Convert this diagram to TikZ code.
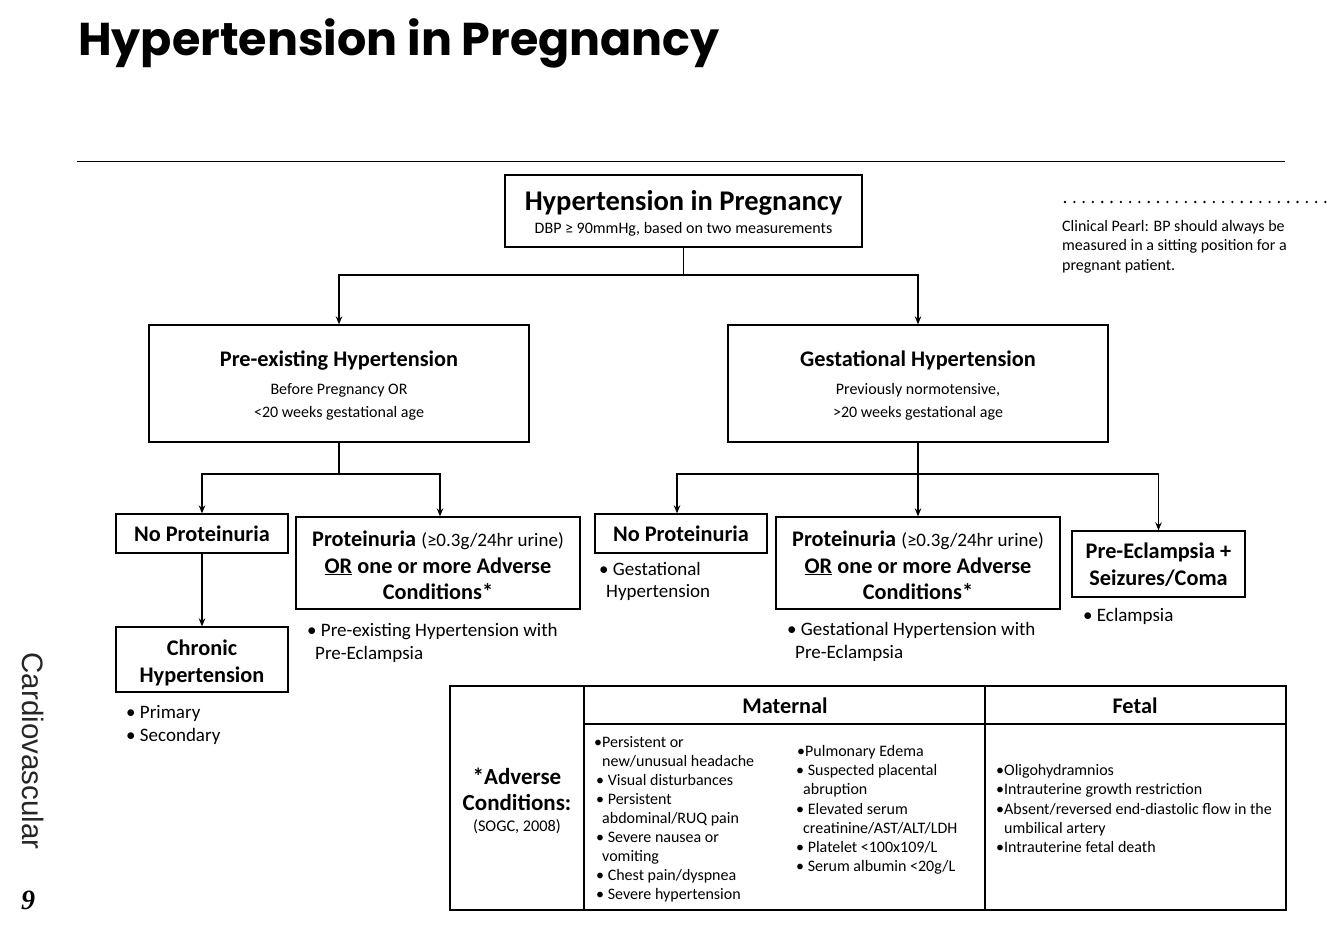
\documentclass[tikz,border=0pt]{standalone}
\usepackage{fontspec}
\setmainfont{Carlito}
\newfontfamily\titlefont{Poppins}
\newfontfamily\sidefont{Liberation Sans}
\newfontfamily\numfont{Liberation Serif}
\usetikzlibrary{arrows.meta}
\begin{document}
\begin{tikzpicture}[x=1pt,y=-1pt,
  box/.style={draw,line width=1.3pt,inner sep=0pt,minimum width=#1},
  conn/.style={line width=1.2pt},
  arr/.style={line width=1.2pt,-{Stealth[length=8pt,width=6.5pt]}},
  hd/.style={anchor=base,inner sep=0pt,font=\fontsize{22.3}{24}\selectfont\bfseries},
  sm/.style={anchor=base,inner sep=0pt,font=\fontsize{16}{18}\selectfont},
  bl/.style={anchor=base west,inner sep=0pt,font=\fontsize{19}{22}\selectfont},
  tb/.style={anchor=base west,inner sep=0pt,font=\fontsize{16}{18}\selectfont},
  pearl/.style={anchor=base west,inner sep=0pt,font=\fontsize{16}{18}\selectfont},
]
\useasboundingbox (0,0) rectangle (1327,925);

% page title and rule
\node[anchor=base west,inner sep=0pt,font=\titlefont\fontsize{46}{50}\selectfont\bfseries] (title) at (78,56) {Hypertension in Pregnancy};
\draw[line width=0.8pt] (77,161) -- (1285,161);

% clinical pearl
\draw[line width=2.6pt,line cap=round,dash pattern=on 0pt off 9.3pt] (1065,202) -- (1327,202);
\node[pearl] (cp1) at (1062,232) {Clinical Pearl: BP should always be};
\node[pearl] (cp2) at (1062,251) {measured in a sitting position for a};
\node[pearl] (cp3) at (1062,270) {pregnant patient.};

% side label
\node[rotate=-90,inner sep=0pt,text=black!85,font=\sidefont\fontsize{29.5}{32}\selectfont] (side) at (33,751) {Cardiovascular};
\node[inner sep=0pt,font=\numfont\fontsize{28}{30}\selectfont\bfseries\itshape] (pg) at (28,900) {9};

% top box
\node[box=357pt,minimum height=72pt] (top) at (683.5,211) {};
\node[anchor=base,inner sep=0pt,font=\fontsize{28.5}{30}\selectfont\bfseries] (topt) at (683.5,211) {Hypertension in Pregnancy};
\node[sm] (tops) at (683.5,234) {DBP ≥ 90mmHg, based on two measurements};

% second level
\node[box=380pt,minimum height=117pt] (pre) at (339,383.5) {};
\node[hd] (pret) at (339,366) {Pre-existing Hypertension};
\node[sm] (pre1) at (339,394) {Before Pregnancy OR};
\node[sm] (pre2) at (339,417.5) {<20 weeks gestational age};

\node[box=380pt,minimum height=117pt] (gest) at (918,383.5) {};
\node[hd] (gestt) at (918,366) {Gestational Hypertension};
\node[sm] (gest1) at (918,394) {Previously normotensive,};
\node[sm] (gest2) at (918,417.5) {>20 weeks gestational age};

% third level left
\node[box=172pt,minimum height=39pt] (np1) at (202,533.5) {};
\node[hd] (np1t) at (202,541.5) {No Proteinuria};
\node[box=284pt,minimum height=92pt] (pp1) at (438,563) {};
\node[hd] (pp1a) at (438,546) {Proteinuria {\mdseries\fontsize{19}{22}\selectfont(≥0.3g/24hr urine)}};
\node[hd] (pp1b) at (438,573) {\underline{OR} one or more Adverse};
\node[hd] (pp1c) at (438,599) {Conditions*};
\node[box=172pt,minimum height=65pt] (ch) at (202,659.5) {};
\node[hd] (cht1) at (202,655) {Chronic};
\node[hd] (cht2) at (202,682.5) {Hypertension};

\node[bl] (b1) at (126,718) {• Primary};
\node[bl] (b2) at (126,741) {• Secondary};
\node[bl] (b3) at (307,636.5) {• Pre-existing Hypertension with};
\node[bl] (b4) at (315,659.5) {Pre-Eclampsia};

% third level right
\node[box=172pt,minimum height=39pt] (np2) at (681,533.5) {};
\node[hd] (np2t) at (681,541.5) {No Proteinuria};
\node[box=284pt,minimum height=92pt] (pp2) at (918,563) {};
\node[hd] (pp2a) at (918,546) {Proteinuria {\mdseries\fontsize{19}{22}\selectfont(≥0.3g/24hr urine)}};
\node[hd] (pp2b) at (918,573) {\underline{OR} one or more Adverse};
\node[hd] (pp2c) at (918,599) {Conditions*};
\node[box=173pt,minimum height=66pt] (pe) at (1158.5,564) {};
\node[hd] (pet1) at (1158.5,558) {Pre-Eclampsia +};
\node[hd] (pet2) at (1158.5,585) {Seizures/Coma};

\node[bl] (b5) at (599,575.5) {• Gestational};
\node[bl] (b6) at (606,597.5) {Hypertension};
\node[bl] (b7) at (787,635) {• Gestational Hypertension with};
\node[bl] (b8) at (795,658) {Pre-Eclampsia};
\node[bl] (b9) at (1083,621) {• Eclampsia};

% connectors
\coordinate (j1) at (683.5,275);
\coordinate (j2) at (339,474);
\coordinate (j3) at (918,474);
\draw[conn] (top.south) -- (j1);
\draw[arr] (j1) -| (pre.north);
\draw[arr] (j1) -| (gest.north);
\draw[conn] (pre.south) -- (j2);
\draw[arr] (j2) -| (np1.north);
\draw[arr] (j2) -| ([xshift=2pt]pp1.north);
\draw[arr] (np1.south) -- (ch.north);
\draw[conn] (gest.south) -- (j3);
\draw[arr] (j3) -| ([xshift=-4pt]np2.north);
\draw[arr] (j3) -- (pp2.north);
\draw[arr] (j3) -| (pe.north);

% table
\draw[line width=1.5pt] (450,686) rectangle (1286,910);
\draw[line width=1.5pt] (584,686) -- (584,910);
\draw[line width=1.5pt] (985,686) -- (985,910);
\draw[line width=1.5pt] (584,724) -- (1286,724);
\node[hd] (mat) at (785,713) {Maternal};
\node[hd] (fet) at (1135,713) {Fetal};
\node[hd,font=\fontsize{23}{25}\selectfont\bfseries] (adv1) at (517,784) {*Adverse};
\node[hd,font=\fontsize{23}{25}\selectfont\bfseries] (adv2) at (517,810) {Conditions:};
\node[sm,font=\fontsize{16.3}{18}\selectfont] (adv3) at (517,831) {(SOGC, 2008)};

\node[tb] (m1) at (594,747) {•Persistent or};
\node[tb] (m2) at (602,766) {new/unusual headache};
\node[tb] (m3) at (596,785) {• Visual disturbances};
\node[tb] (m4) at (596,804) {• Persistent};
\node[tb] (m5) at (602,823) {abdominal/RUQ pain};
\node[tb] (m6) at (596,842) {• Severe nausea or};
\node[tb] (m7) at (602,861) {vomiting};
\node[tb] (m8) at (596,880) {• Chest pain/dyspnea};
\node[tb] (m9) at (596,899) {• Severe hypertension};

\node[tb] (n1) at (797,756) {•Pulmonary Edema};
\node[tb] (n2) at (796,775.5) {• Suspected placental};
\node[tb] (n3) at (803,794.5) {abruption};
\node[tb] (n4) at (796,814) {• Elevated serum};
\node[tb] (n5) at (803,833) {creatinine/AST/ALT/LDH};
\node[tb] (n6) at (796,852.5) {• Platelet <100x109/L};
\node[tb] (n7) at (796,871.5) {• Serum albumin <20g/L};

\node[tb] (f1) at (996,775.5) {•Oligohydramnios};
\node[tb] (f2) at (996,794.5) {•Intrauterine growth restriction};
\node[tb] (f3) at (996,814) {•Absent/reversed end-diastolic flow in the};
\node[tb] (f4) at (1004,833) {umbilical artery};
\node[tb] (f5) at (996,852.5) {•Intrauterine fetal death};
\end{tikzpicture}
\end{document}
